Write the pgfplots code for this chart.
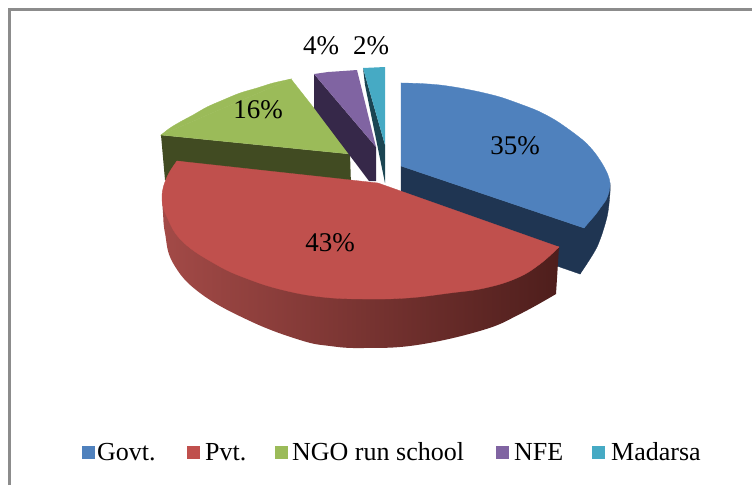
\documentclass[border=0pt]{standalone}
\usepackage{fontspec}
\setmainfont{Liberation Serif}
\usepackage{pgfplots}
\pgfplotsset{compat=1.18}
\definecolor{cblue}{HTML}{4F81BD}
\definecolor{cblued}{HTML}{1F3552}
\definecolor{cred}{HTML}{C0504D}
\definecolor{credl}{HTML}{A34A47}
\definecolor{credm}{HTML}{7B3330}
\definecolor{credd}{HTML}{4E1E1C}
\definecolor{cgreen}{HTML}{9BBB59}
\definecolor{cgreend}{HTML}{414B22}
\definecolor{cpurple}{HTML}{8064A2}
\definecolor{cpurpled}{HTML}{362849}
\definecolor{cteal}{HTML}{46AAC4}
\definecolor{cteald}{HTML}{1B4552}
\definecolor{cborder}{HTML}{8C8C8C}
\newcommand{\lab}{\fontsize{27}{27}\selectfont}
\newcommand{\leg}{\fontsize{26}{26}\selectfont}
\begin{document}
\begin{tikzpicture}
\begin{axis}[
  scale only axis, width=752pt, height=485pt,
  xmin=0, xmax=752, ymin=0, ymax=485, y dir=reverse,
  axis lines=none, ticks=none,
]
% chart frame
\addplot[cborder, line width=2.6pt] coordinates {(9.5,485) (9.5,9.5) (752,9.5)};
% Govt. side and top
\addplot[draw=cblued, line width=.3pt, fill=cblued] coordinates {(401,166) (584,228) (595,235) (590,255) (580,274) (401,212)} --cycle;
\addplot[draw=cblued, line width=.3pt, fill=cblued, smooth] coordinates {(610,183) (610,193) (607,217) (597,247) (580,274)} --(584,228) --cycle;
\addplot[draw=cblue, line width=.3pt, fill=cblue] coordinates {(401,83) (480,95) (550,122) (598,165) (604,183) (584,228) (401,166)} --cycle;
\addplot[draw=cblue, line width=.3pt, fill=cblue, smooth] coordinates {(401,83) (420,83.5) (440,85) (460,88) (480,92) (500,97) (520,104) (538,111) (555,120) (571,131) (585,142) (595,153) (603,165) (608,175) (610,183) (609,192) (606,200) (601,207) (596,214) (590,221) (584,228)} --cycle;
% NGO run school side and top
\addplot[draw=none, fill=cgreend] coordinates {(161,135) (350,154) (351,185) (165,180)} --cycle;
\addplot[draw=cgreen, line width=.3pt, fill=cgreen] coordinates {(291,79) (161,135) (350,154)} --cycle;
\addplot[draw=cgreen, line width=.3pt, fill=cgreen, smooth] coordinates {(291,79) (273,83) (257,88) (240,93) (223,100) (207,107) (193,115) (180,122) (170,128) (161,135)} --cycle;
% NFE side and top
\addplot[draw=none, fill=cpurpled] coordinates {(314,74) (314,108) (369,181) (376,181) (376,147)} --cycle;
\addplot[draw=none, fill=cpurple] coordinates {(314,74) (328,72) (343,71) (357,70) (376,147)} --cycle;
% Madarsa side and top
\addplot[draw=none, fill=cteald] coordinates {(363,68) (365,85) (385,183) (385,145)} --cycle;
\addplot[draw=none, fill=cteal] coordinates {(363,68) (385,67) (385,145)} --cycle;
% Pvt. side and top
\addplot[draw=none, left color=credl, middle color=credm, right color=credd, smooth, tension=0.7] coordinates {(162,197) (163,213) (165,233) (173,263) (200,293) (250,321) (300,340) (330,346) (363,348) (417,345) (483,330) (520,314) (556,294)} --(559,247) --cycle;
\addplot[draw=cred, line width=.3pt, fill=cred] coordinates {(378,183) (177,161) (166,197) (190,242) (283,286) (363,295) (450,289) (515,274) (559,247)} --cycle;
\addplot[draw=cred, line width=.3pt, fill=cred, smooth, tension=0.7] coordinates {(177,161) (167,177) (162,197) (167,217) (183,242) (217,265) (248,279) (283,290) (322,297) (363,299) (407,298) (450,293) (485,288) (517,278) (540,264) (559,247)} --cycle;
% percentage labels
\node at (axis cs:515,146) {\lab 35\%};
\node at (axis cs:330,243) {\lab 43\%};
\node at (axis cs:258,110) {\lab 16\%};
\node at (axis cs:321,46) {\lab 4\%};
\node at (axis cs:371,46) {\lab 2\%};
% legend keys
\addplot[only marks, mark=square*, mark size=6pt, cblue] coordinates {(88,452)};
\addplot[only marks, mark=square*, mark size=6pt, cred] coordinates {(193.5,452)};
\addplot[only marks, mark=square*, mark size=6pt, cgreen] coordinates {(281.5,452)};
\addplot[only marks, mark=square*, mark size=6pt, cpurple] coordinates {(502,452)};
\addplot[only marks, mark=square*, mark size=6pt, cteal] coordinates {(598.5,452)};
\node[anchor=base west, inner sep=0pt] at (axis cs:97,460) {\leg Govt.};
\node[anchor=base west, inner sep=0pt] at (axis cs:205,460) {\leg Pvt.};
\node[anchor=base west, inner sep=0pt] at (axis cs:292,460) {\leg NGO run school};
\node[anchor=base west, inner sep=0pt] at (axis cs:514,460) {\leg NFE};
\node[anchor=base west, inner sep=0pt] at (axis cs:611,460) {\leg Madarsa};
\end{axis}
\path (0,0) rectangle (752pt,485pt);
\end{tikzpicture}
\end{document}
